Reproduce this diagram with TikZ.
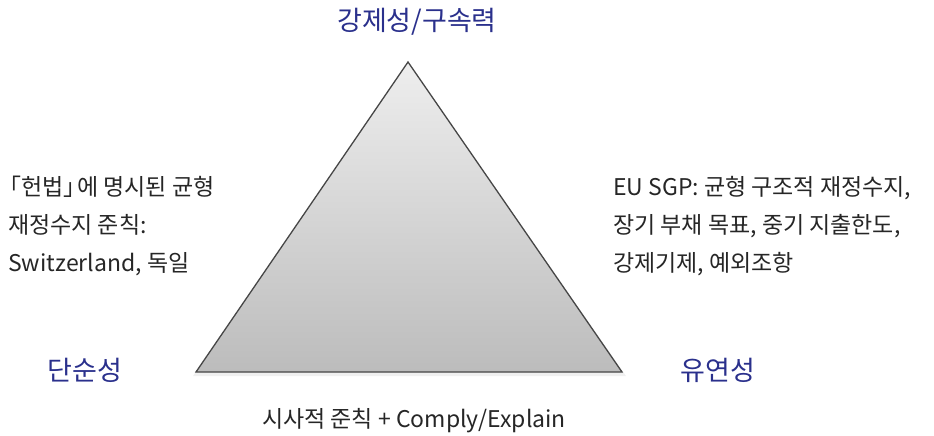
\documentclass[tikz,border=0pt]{standalone}
\usepackage{fontspec}
\setmainfont{Noto Sans CJK KR}
\definecolor{ttl}{RGB}{42,48,140}
\definecolor{tritop}{RGB}{238,238,238}
\definecolor{tribot}{RGB}{188,188,188}
\definecolor{triedge}{RGB}{70,70,70}
\tikzset{
  corner/.style={text=ttl, font=\fontsize{27}{30}\selectfont, inner sep=0pt, anchor=center},
  body/.style={text=black!85, font=\fontsize{23}{38}\selectfont, inner sep=0pt, align=left},
}
\begin{document}
\begin{tikzpicture}[x=1pt,y=-1pt]
\useasboundingbox (0,0) rectangle (934,436);
\coordinate (apex) at (408,62);
\coordinate (bl) at (196,372);
\coordinate (br) at (622,372);
\fill[black!6] (409,64) -- (193,376) -- (626,376) -- cycle;
\shade[top color=tritop, bottom color=tribot, draw=triedge, line width=1.3pt, line join=miter]
  (apex) -- (bl) -- (br) -- cycle;
\node[corner] (top) at (417,22) {강제성/구속력};
\node[corner] (left) at (85,370) {단순성};
\node[corner] (right) at (718,370) {유연성};
\node[body, anchor=west] (ltxt) at (8,226) {\hspace*{-0.42em}「헌법」\hspace{-0.42em}에 명시된 균형\\재정수지 준칙:\\Switzerland, 독일};
\node[body, anchor=west] (rtxt) at (613,226) {EU SGP: 균형 구조적 재정수지,\\장기 부채 목표, 중기 지출한도,\\강제기제, 예외조항};
\node[body, anchor=center] (btxt) at (414,421) {시사적 준칙 + Comply/Explain};
\end{tikzpicture}
\end{document}
